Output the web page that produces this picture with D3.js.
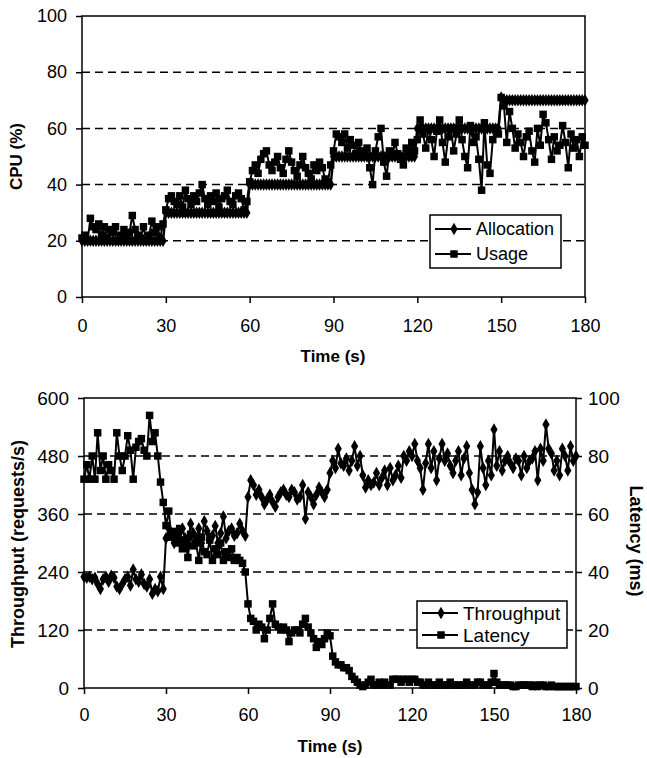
<!DOCTYPE html>
<html><head><meta charset="utf-8">
<script src="https://cdn.jsdelivr.net/npm/d3@7"></script>
<style>body{margin:0;background:#fff}svg{display:block}text{font-family:"Liberation Sans",Arial,sans-serif;fill:#000}</style>
</head><body>
<svg id="c" width="647" height="758"></svg>
<script>
// ---------- Data ----------
const cpuYTicks = [0,20,40,60,80,100];
const timeTicks = [0,30,60,90,120,150,180];
const thrTicks = [0,120,240,360,480,600];
const latTicks = [0,20,40,60,80,100];

const allocation = [
 20,20,20,20,20,20,20,20,20,20,20,20,20,20,20,20,20,20,20,20,20,20,20,20,20,20,20,20,20,20,
 30,30,30,30,30,30,30,30,30,30,30,30,30,30,30,30,30,30,30,30,30,30,30,30,30,30,30,30,30,30,
 40,40,40,40,40,40,40,40,40,40,40,40,40,40,40,40,40,40,40,40,40,40,40,40,40,40,40,40,40,40,
 50,50,50,50,50,50,50,50,50,50,50,50,50,50,50,50,50,50,50,50,50,50,50,50,50,50,50,50,50,50,
 60,60,60,60,60,60,60,60,60,60,60,60,60,60,60,60,60,60,60,60,60,60,60,60,60,60,60,60,60,60,
 71,70,70,70,70,70,70,70,70,70,70,70,70,70,70,70,70,70,70,70,70,70,70,70,70,70,70,70,70,70,70];

const usage = [
 21,22,20,28,25,24,26,22,25,21,24,23,25,20,22,24,21,23,29,24,22,21,25,20,22,27,23,25,21,26,
 31,35,36,34,33,36,32,38,35,33,36,34,37,40,35,33,36,34,37,32,35,36,38,34,33,36,37,35,31,34,
 41,45,47,44,49,51,52,47,45,48,50,46,44,49,52,48,45,43,47,50,46,44,42,47,45,48,46,42,41,47,
 52,58,57,55,58,53,56,54,51,55,52,50,53,46,40,52,57,60,48,43,52,50,55,51,49,47,53,50,55,52,
 56,63,58,53,60,56,50,59,63,55,48,57,60,52,58,63,56,50,46,61,55,57,49,38,62,47,44,56,60,58,
 71,68,55,66,60,53,58,55,50,57,59,52,48,60,54,65,62,56,49,57,52,54,61,55,46,58,53,56,50,57,54];

const throughput = [
 230,228,230,225,228,215,205,225,230,220,232,228,210,205,215,225,230,212,245,225,220,235,215,210,225,195,205,200,230,205,
 310,330,315,300,320,305,330,310,295,340,320,310,330,300,345,325,310,315,335,300,320,355,310,325,330,315,320,340,325,315,
 395,430,420,400,410,395,380,390,400,385,375,395,405,410,400,395,410,405,390,395,420,350,405,395,380,400,415,405,395,410,
 445,470,455,495,465,460,475,450,470,500,460,480,440,415,430,420,425,445,420,435,450,420,455,430,440,460,435,480,470,490,
 480,505,470,455,410,465,505,455,490,430,475,505,470,485,460,445,470,490,440,475,500,445,410,380,405,500,455,420,470,440,
 535,460,490,450,470,480,465,455,475,470,440,480,455,470,475,490,430,495,470,545,495,485,450,470,440,495,480,450,500,470,480];

const latency = [
 72,77,72,80,72,88,75,80,72,77,75,72,88,80,75,80,87,82,72,83,85,86,82,80,94,85,88,80,71,64,
 56,61,52,54,50,55,48,51,45,53,49,50,44,52,47,46,51,44,48,46,50,44,47,45,48,44,45,44,43,40,
 29,24,23,20,22,21,17,20,24,29,22,21,20,21,20,16,19,20,20,19,22,24,21,19,17,14,16,15,17,19,
 18,11,9,8,8,7,7,6,4,3,2,1,0.5,1,2,3,1,1,2,1,2,1,1,3,3,3,2,3,3,2,
 3,3,2,2,1,1,2,1,1,1,2,1,1,1,2,1,1,1,1,1,2,1,1,1,2,2,1,1,1,2,
 5,2,1,1,1,1,1,0.5,0.5,1,1,1,1,1,0.5,1,0.5,1,1,0.5,0.5,1,0.5,0.5,0.5,0.5,0.5,0.5,0.5,0.5,0.5];

// ---------- Drawing ----------
const svg = d3.select("#c");

function dashedGrid(g, y, ticks, x0, x1){
  g.selectAll(null).data(ticks.filter((d,i)=>i>0 && i<ticks.length-1)).enter().append("line")
    .attr("x1",x0).attr("x2",x1).attr("y1",d=>y(d)).attr("y2",d=>y(d))
    .attr("stroke","#000").attr("stroke-width",1.5).attr("stroke-dasharray","8,5");
}
function frame(g, x0,x1,y0,y1){
  g.append("rect").attr("x",x0).attr("y",y1).attr("width",x1-x0).attr("height",y0-y1)
   .attr("fill","none").attr("stroke","#000").attr("stroke-width",1.5);
}
function styleAxis(a, fs){
  a.select(".domain").remove();
  a.selectAll(".tick line").attr("stroke","#000").attr("stroke-width",1.5);
  a.selectAll(".tick text").style("font-size",fs+"px").style("font-family","Liberation Sans, Arial, sans-serif");
}
const diamond = d3.symbol().type(d3.symbolDiamond).size(45);
const square = d3.symbol().type(d3.symbolSquare).size(56);

function series(g, data, x, y, sym, lw){
  const pts = data.map((v,i)=>[i,v]);
  g.append("path").datum(pts).attr("fill","none").attr("stroke","#000").attr("stroke-width",lw)
    .attr("d", d3.line().x(d=>x(d[0])).y(d=>y(d[1])));
  g.selectAll(null).data(pts).enter().append("path")
    .attr("d", sym).attr("fill","#000")
    .attr("transform", d=>`translate(${x(d[0])},${y(d[1])})`);
}
function legend(g, x0, y0, w, h, fs, items){
  g.append("rect").attr("x",x0).attr("y",y0).attr("width",w).attr("height",h)
   .attr("fill","#fff").attr("stroke","#000").attr("stroke-width",1.5);
  items.forEach((it,i)=>{
    const cy = y0 + it.dy;
    g.append("line").attr("x1",x0+5).attr("x2",x0+41).attr("y1",cy).attr("y2",cy)
      .attr("stroke","#000").attr("stroke-width",2);
    g.append("path").attr("d",it.sym).attr("fill","#000").attr("transform",`translate(${x0+24},${cy})`);
    g.append("text").attr("x",x0+46).attr("y",cy).attr("dy","0.35em").style("font-size",fs+"px").text(it.label);
  });
}
function title(g, txt, x, y, rot, fs){
  g.append("text").attr("transform",`translate(${x},${y}) rotate(${rot})`).attr("text-anchor","middle")
    .attr("dy","0.35em").style("font-size",fs+"px").style("font-weight","bold").text(txt);
}

// ----- Top chart -----
{
  const X0=82, X1=585, Y0=297, Y1=16;
  const x = d3.scaleLinear().domain([0,180]).range([X0,X1]);
  const y = d3.scaleLinear().domain([0,100]).range([Y0,Y1]);
  const g = svg.append("g");
  dashedGrid(g, y, cpuYTicks, X0, X1);
  frame(g, X0, X1, Y0, Y1);
  const ay = g.append("g").attr("transform",`translate(${X0},0)`)
    .call(d3.axisLeft(y).tickValues(cpuYTicks).tickSize(6).tickPadding(9));
  styleAxis(ay, 18);
  const ax = g.append("g").attr("transform",`translate(0,${Y0})`)
    .call(d3.axisBottom(x).tickValues(timeTicks).tickSize(6).tickPadding(16));
  styleAxis(ax, 18);
  series(g, allocation, x, y, diamond, 2.5);
  series(g, usage, x, y, square, 2);
  title(g, "Time (s)", 333, 356, 0, 17);
  title(g, "CPU (%)", 16, (Y0+Y1)/2, -90, 17);
  legend(g, 430, 215, 131, 53, 18, [{label:"Allocation",sym:diamond,dy:14},{label:"Usage",sym:square,dy:39}]);
}

// ----- Bottom chart -----
{
  const X0=84, X1=576, Y0=688, Y1=398;
  const x = d3.scaleLinear().domain([0,180]).range([X0,X1]);
  const yL = d3.scaleLinear().domain([0,600]).range([Y0,Y1]);
  const yR = d3.scaleLinear().domain([0,100]).range([Y0,Y1]);
  const g = svg.append("g");
  dashedGrid(g, yL, thrTicks, X0, X1);
  frame(g, X0, X1, Y0, Y1);
  const ay = g.append("g").attr("transform",`translate(${X0},0)`)
    .call(d3.axisLeft(yL).tickValues(thrTicks).tickSize(6).tickPadding(9));
  styleAxis(ay, 19);
  const ar = g.append("g").attr("transform",`translate(${X1},0)`)
    .call(d3.axisRight(yR).tickValues(latTicks).tickSize(6).tickPadding(6));
  styleAxis(ar, 19);
  const ax = g.append("g").attr("transform",`translate(0,${Y0})`)
    .call(d3.axisBottom(x).tickValues(timeTicks).tickSize(6).tickPadding(14));
  styleAxis(ax, 18);
  series(g, throughput, x, yL, diamond, 2);
  series(g, latency, x, yR, square, 2);
  title(g, "Time (s)", 330, 746, 0, 17);
  title(g, "Throughput (requests/s)", 18, 544, -90, 18);
  title(g, "Latency (ms)", 636, 541, 90, 18);
  legend(g, 417, 601, 150, 47, 19, [{label:"Throughput",sym:diamond,dy:12},{label:"Latency",sym:square,dy:34}]);
}
</script>
</body></html>
